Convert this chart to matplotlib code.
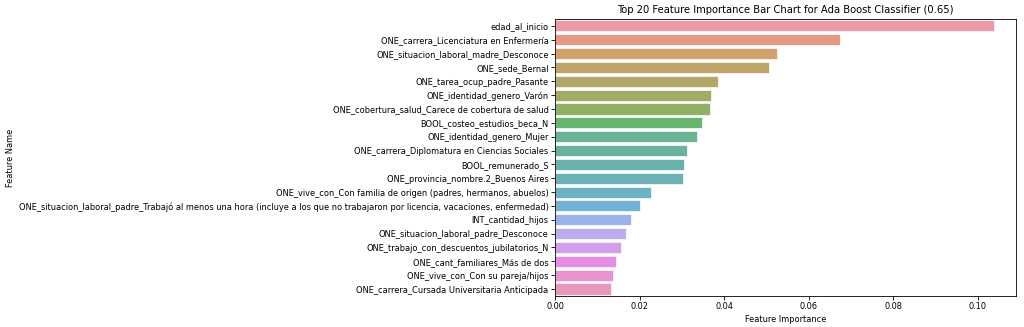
import matplotlib

matplotlib.use("Agg")

import matplotlib.pyplot as plt
import pandas as pd
import seaborn as sns

# Feature names, top to bottom
features = [
    "edad_al_inicio",
    "ONE_carrera_Licenciatura en Enfermería",
    "ONE_situacion_laboral_madre_Desconoce",
    "ONE_sede_Bernal",
    "ONE_tarea_ocup_padre_Pasante",
    "ONE_identidad_genero_Varón",
    "ONE_cobertura_salud_Carece de cobertura de salud",
    "BOOL_costeo_estudios_beca_N",
    "ONE_identidad_genero_Mujer",
    "ONE_carrera_Diplomatura en Ciencias Sociales",
    "BOOL_remunerado_S",
    "ONE_provincia_nombre.2_Buenos Aires",
    "ONE_vive_con_Con familia de origen (padres, hermanos, abuelos)",
    "ONE_situacion_laboral_padre_Trabajó al menos una hora (incluye a los que no "
    "trabajaron por licencia, vacaciones, enfermedad)",
    "INT_cantidad_hijos",
    "ONE_situacion_laboral_padre_Desconoce",
    "ONE_trabajo_con_descuentos_jubilatorios_N",
    "ONE_cant_familiares_Más de dos",
    "ONE_vive_con_Con su pareja/hijos",
    "ONE_carrera_Cursada Universitaria Anticipada",
]

importance = [
    0.1038, 0.0675, 0.0526, 0.0507, 0.0386, 0.0368, 0.0366, 0.0347, 0.0335,
    0.0312, 0.0304, 0.0303, 0.0227, 0.0202, 0.0179, 0.0169, 0.0155, 0.0144,
    0.0138, 0.0133,
]

df = pd.DataFrame({"Feature Name": features, "Feature Importance": importance})

FS = 5.93  # the screenshot was downscaled, so everything reads small

fig, ax = plt.subplots(figsize=(10.24, 3.27), dpi=100)
sns.barplot(
    data=df, x="Feature Importance", y="Feature Name",
    hue="Feature Name", palette="husl", legend=False, ax=ax,
    alpha=0.8, edgecolor="white", linewidth=0.6,
)
ax.set_title("Top 20 Feature Importance Bar Chart for Ada Boost Classifier (0.65)",
             fontsize=7.2, pad=4)
ax.set_xlabel("Feature Importance", fontsize=FS, labelpad=3)
ax.set_ylabel("Feature Name", fontsize=FS, labelpad=3)
ax.tick_params(labelsize=FS, length=2.6, width=0.6, pad=2)
for s in ax.spines.values():
    s.set_linewidth(0.6)
fig.subplots_adjust(left=0.542, right=0.992, top=0.942, bottom=0.095)
fig.savefig("out.png", dpi=100)
